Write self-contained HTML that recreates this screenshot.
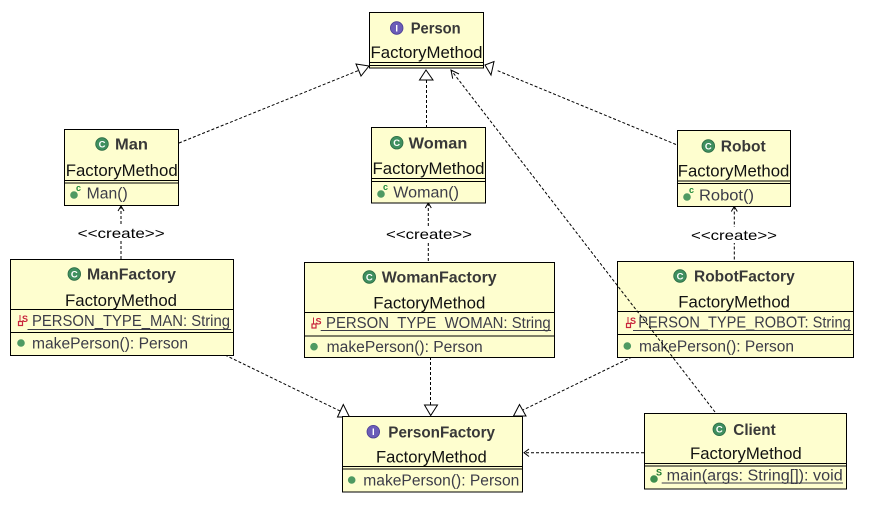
<!DOCTYPE html>
<html><head><meta charset="utf-8"><style>
html,body{margin:0;padding:0;background:#fff;}
svg{display:block}
.b{fill:#fefecf;stroke:#000;stroke-width:1}
.s{stroke:#000;stroke-width:1;fill:none}
.t{font-family:"Liberation Sans",sans-serif;font-weight:bold;font-size:16px;fill:#383838}
.f{font-family:"Liberation Sans",sans-serif;font-size:17px;fill:#111}
.m{font-family:"Liberation Sans",sans-serif;font-size:15.5px;fill:#3c3c48}
.c{stroke:#000;stroke-width:1;fill:none;stroke-dasharray:3 2}
.a{stroke:#000;stroke-width:1;fill:#fff}
.o{stroke:#000;stroke-width:1;fill:none}
.cr{font-family:"Liberation Sans",sans-serif;font-size:14px;fill:#000}
.ic{font-family:"Liberation Sans",sans-serif;font-weight:bold;font-size:9.5px;fill:#fff}
.sup{font-family:"Liberation Sans",sans-serif;font-weight:bold;font-size:9px}
</style></head><body>
<svg width="878" height="518" viewBox="0 0 878 518" xmlns="http://www.w3.org/2000/svg">
<rect width="878" height="518" fill="#fff"/>

<!-- connectors -->
<line class="c" x1="179" y1="143" x2="358.5" y2="70.5"/>
<polygon class="a" points="369,66 356,64 361,76"/>
<line class="c" x1="426.5" y1="80" x2="426.5" y2="127"/>
<polygon class="a" points="426,70 419.5,80 433,80"/>
<line class="c" x1="676" y1="144.5" x2="496" y2="70"/>
<polygon class="a" points="485,65 494,61.5 491,75"/>
<line class="c" x1="225" y1="355" x2="340" y2="411"/>
<polygon class="a" points="343.3,404.5 337.5,417 349.5,417"/>
<line class="c" x1="430.5" y1="357" x2="430.5" y2="405"/>
<polygon class="a" points="424.5,405 437.5,405 430.7,415.5"/>
<line class="c" x1="632" y1="357" x2="523" y2="410"/>
<polygon class="a" points="519.5,404.5 513.5,416 526,416"/>
<line class="c" x1="644" y1="452.7" x2="525" y2="452.7"/>
<polyline class="o" points="529,449 524,452.7 529,456.5"/>

<!-- create connectors -->
<line class="c" x1="121" y1="206" x2="121" y2="259"/>
<polyline class="o" points="118,211 121,206 124,211"/>
<rect x="76" y="225" width="90" height="16" fill="#fff"/>
<text class="cr" x="77.7" y="238" textLength="87" lengthAdjust="spacingAndGlyphs">&lt;&lt;create&gt;&gt;</text>

<line class="c" x1="428.3" y1="203" x2="428.3" y2="262.5"/>
<polyline class="o" points="425.3,208 428.3,203 431.3,208"/>
<rect x="384" y="226" width="90" height="16" fill="#fff"/>
<text class="cr" x="386" y="239" textLength="86" lengthAdjust="spacingAndGlyphs">&lt;&lt;create&gt;&gt;</text>

<line class="c" x1="734.3" y1="206.5" x2="734.3" y2="261.5"/>
<polyline class="o" points="731.3,211.5 734.3,206.5 737.3,211.5"/>
<rect x="689" y="227" width="90" height="16" fill="#fff"/>
<text class="cr" x="691" y="240" textLength="86" lengthAdjust="spacingAndGlyphs">&lt;&lt;create&gt;&gt;</text>

<!-- Person -->
<rect class="b" x="369.5" y="12.5" width="114" height="55.5"/>
<line class="s" x1="369.5" y1="62.5" x2="483.5" y2="62.5"/>
<line class="s" x1="369.5" y1="65.5" x2="483.5" y2="65.5"/>
<circle cx="396.7" cy="28" r="6.3" fill="#6b5cb8" stroke="#4a3d94" stroke-width="0.8"/>
<text class="ic" x="396.7" y="31.3" text-anchor="middle">I</text>
<text class="t" x="410.7" y="33.5" textLength="50" lengthAdjust="spacingAndGlyphs">Person</text>
<text class="f" x="370.5" y="58" textLength="112" lengthAdjust="spacingAndGlyphs">FactoryMethod</text>

<!-- Man -->
<rect class="b" x="64.5" y="129.5" width="114" height="76"/>
<line class="s" x1="64.5" y1="180.5" x2="178.5" y2="180.5"/>
<line class="s" x1="64.5" y1="183" x2="178.5" y2="183"/>
<circle cx="102" cy="144" r="6.3" fill="#3f8f5f" stroke="#2a6a43" stroke-width="0.8"/>
<text class="ic" x="102" y="147.3" text-anchor="middle">C</text>
<text class="t" x="115" y="149.5" textLength="33" lengthAdjust="spacingAndGlyphs">Man</text>
<text class="f" x="65.7" y="176" textLength="112" lengthAdjust="spacingAndGlyphs">FactoryMethod</text>
<circle cx="74" cy="195" r="3.8" fill="#4f9a62"/>
<text class="sup" x="76" y="191" fill="#1f8a3a">c</text>
<text class="m" x="86.7" y="198.5" textLength="41" lengthAdjust="spacingAndGlyphs">Man()</text>

<!-- ManFactory -->
<rect class="b" x="10.5" y="259.5" width="223" height="96"/>
<line class="s" x1="10.5" y1="309.5" x2="233.5" y2="309.5"/>
<line class="s" x1="10.5" y1="332.5" x2="233.5" y2="332.5"/>
<circle cx="74.3" cy="274" r="6.3" fill="#3f8f5f" stroke="#2a6a43" stroke-width="0.8"/>
<text class="ic" x="74.3" y="277.3" text-anchor="middle">C</text>
<text class="t" x="87" y="279.5" textLength="89" lengthAdjust="spacingAndGlyphs">ManFactory</text>
<text class="f" x="65" y="306" textLength="112" lengthAdjust="spacingAndGlyphs">FactoryMethod</text>
<rect x="18.5" y="321.5" width="4" height="4" fill="none" stroke="#c8243c" stroke-width="1.2"/>
<line x1="20" y1="315" x2="20" y2="321" stroke="#c8243c" stroke-width="1"/>
<text class="sup" x="22" y="322" fill="#c8243c">S</text>
<text class="m" x="32" y="326" textLength="198" lengthAdjust="spacingAndGlyphs">PERSON_TYPE_MAN: String</text>
<line x1="27.5" y1="329.5" x2="231" y2="329.5" stroke="#3c3c48" stroke-width="1"/>
<circle cx="21" cy="343" r="3.8" fill="#4f9a62"/>
<text class="m" x="32" y="348.5" textLength="156" lengthAdjust="spacingAndGlyphs">makePerson(): Person</text>

<!-- Woman -->
<rect class="b" x="371.5" y="127.5" width="114" height="75.5"/>
<line class="s" x1="371.5" y1="178.5" x2="485.5" y2="178.5"/>
<line class="s" x1="371.5" y1="181.5" x2="485.5" y2="181.5"/>
<circle cx="396.7" cy="142.7" r="6.3" fill="#3f8f5f" stroke="#2a6a43" stroke-width="0.8"/>
<text class="ic" x="396.7" y="146" text-anchor="middle">C</text>
<text class="t" x="408.7" y="148.3" textLength="58.6" lengthAdjust="spacingAndGlyphs">Woman</text>
<text class="f" x="372.5" y="174" textLength="112" lengthAdjust="spacingAndGlyphs">FactoryMethod</text>
<circle cx="381" cy="194" r="3.8" fill="#4f9a62"/>
<text class="sup" x="383" y="190" fill="#1f8a3a">c</text>
<text class="m" x="393.3" y="197.5" textLength="65.7" lengthAdjust="spacingAndGlyphs">Woman()</text>

<!-- WomanFactory -->
<rect class="b" x="304.5" y="262.5" width="250" height="95"/>
<line class="s" x1="304.5" y1="312.5" x2="554.5" y2="312.5"/>
<line class="s" x1="304.5" y1="336" x2="554.5" y2="336"/>
<circle cx="369.3" cy="277" r="6.3" fill="#3f8f5f" stroke="#2a6a43" stroke-width="0.8"/>
<text class="ic" x="369.3" y="280.3" text-anchor="middle">C</text>
<text class="t" x="381.7" y="282.5" textLength="115" lengthAdjust="spacingAndGlyphs">WomanFactory</text>
<text class="f" x="373.3" y="308.5" textLength="112" lengthAdjust="spacingAndGlyphs">FactoryMethod</text>
<rect x="312" y="324" width="4" height="4" fill="none" stroke="#c8243c" stroke-width="1.2"/>
<line x1="313.5" y1="317.5" x2="313.5" y2="323.5" stroke="#c8243c" stroke-width="1"/>
<text class="sup" x="315.5" y="324.5" fill="#c8243c">S</text>
<text class="m" x="326" y="328" textLength="224.7" lengthAdjust="spacingAndGlyphs">PERSON_TYPE_WOMAN: String</text>
<line x1="320.7" y1="330.5" x2="551" y2="330.5" stroke="#3c3c48" stroke-width="1"/>
<circle cx="314" cy="346.7" r="3.8" fill="#4f9a62"/>
<text class="m" x="326.7" y="352" textLength="156" lengthAdjust="spacingAndGlyphs">makePerson(): Person</text>

<!-- Robot -->
<rect class="b" x="677.5" y="130.5" width="113" height="76"/>
<line class="s" x1="677.5" y1="181" x2="790.5" y2="181"/>
<line class="s" x1="677.5" y1="183.5" x2="790.5" y2="183.5"/>
<circle cx="708.3" cy="146" r="6.3" fill="#3f8f5f" stroke="#2a6a43" stroke-width="0.8"/>
<text class="ic" x="708.3" y="149.3" text-anchor="middle">C</text>
<text class="t" x="720.7" y="151.5" textLength="45" lengthAdjust="spacingAndGlyphs">Robot</text>
<text class="f" x="677.8" y="176.7" textLength="111.5" lengthAdjust="spacingAndGlyphs">FactoryMethod</text>
<circle cx="687" cy="197" r="3.8" fill="#4f9a62"/>
<text class="sup" x="689" y="193" fill="#1f8a3a">c</text>
<text class="m" x="699" y="200.5" textLength="55" lengthAdjust="spacingAndGlyphs">Robot()</text>

<!-- RobotFactory -->
<rect class="b" x="617.5" y="261.5" width="236" height="96"/>
<line class="s" x1="617.5" y1="311.5" x2="853.5" y2="311.5"/>
<line class="s" x1="617.5" y1="334.5" x2="853.5" y2="334.5"/>
<circle cx="680" cy="276" r="6.3" fill="#3f8f5f" stroke="#2a6a43" stroke-width="0.8"/>
<text class="ic" x="680" y="279.3" text-anchor="middle">C</text>
<text class="t" x="694" y="281.5" textLength="100.7" lengthAdjust="spacingAndGlyphs">RobotFactory</text>
<text class="f" x="678.3" y="307.5" textLength="111.7" lengthAdjust="spacingAndGlyphs">FactoryMethod</text>
<rect x="626.5" y="323.5" width="4" height="4" fill="none" stroke="#c8243c" stroke-width="1.2"/>
<line x1="628" y1="317" x2="628" y2="323" stroke="#c8243c" stroke-width="1"/>
<text class="sup" x="630" y="324" fill="#c8243c">S</text>
<text class="m" x="638.3" y="327.5" textLength="212.4" lengthAdjust="spacingAndGlyphs">PERSON_TYPE_ROBOT: String</text>
<line x1="633" y1="330.5" x2="851" y2="330.5" stroke="#3c3c48" stroke-width="1"/>
<circle cx="627.3" cy="346" r="3.8" fill="#4f9a62"/>
<text class="m" x="639" y="351.5" textLength="155" lengthAdjust="spacingAndGlyphs">makePerson(): Person</text>

<!-- PersonFactory -->
<rect class="b" x="342.5" y="416.5" width="180" height="75.5"/>
<line class="s" x1="342.5" y1="466.5" x2="522.5" y2="466.5"/>
<line class="s" x1="342.5" y1="469" x2="522.5" y2="469"/>
<circle cx="373.3" cy="431.7" r="6.3" fill="#6b5cb8" stroke="#4a3d94" stroke-width="0.8"/>
<text class="ic" x="373.3" y="435" text-anchor="middle">I</text>
<text class="t" x="388.3" y="437.3" textLength="106.7" lengthAdjust="spacingAndGlyphs">PersonFactory</text>
<text class="f" x="376" y="462.5" textLength="110.7" lengthAdjust="spacingAndGlyphs">FactoryMethod</text>
<circle cx="351.7" cy="480" r="3.8" fill="#4f9a62"/>
<text class="m" x="363.3" y="485.5" textLength="156" lengthAdjust="spacingAndGlyphs">makePerson(): Person</text>

<!-- Client -->
<rect class="b" x="644.5" y="413.5" width="202" height="75.5"/>
<line class="s" x1="644.5" y1="463.5" x2="846.5" y2="463.5"/>
<line class="s" x1="644.5" y1="466" x2="846.5" y2="466"/>
<circle cx="719.3" cy="429.3" r="6.3" fill="#3f8f5f" stroke="#2a6a43" stroke-width="0.8"/>
<text class="ic" x="719.3" y="432.6" text-anchor="middle">C</text>
<text class="t" x="733.3" y="435" textLength="42.4" lengthAdjust="spacingAndGlyphs">Client</text>
<text class="f" x="690" y="459" textLength="111.7" lengthAdjust="spacingAndGlyphs">FactoryMethod</text>
<circle cx="654" cy="479" r="3.8" fill="#3f8f4f"/>
<text class="sup" x="656" y="475.5" fill="#1f7a2f">S</text>
<text class="m" x="666.7" y="480.5" textLength="176" lengthAdjust="spacingAndGlyphs">main(args: String[]): void</text>
<line x1="661.7" y1="483" x2="843" y2="483" stroke="#3c3c48" stroke-width="1"/>

<!-- Client -> Person (drawn over boxes) -->
<line class="c" x1="715" y1="412" x2="451" y2="70"/>
<polyline class="o" points="459,74 451,70 452.7,78.7"/>
</svg>
</body></html>
